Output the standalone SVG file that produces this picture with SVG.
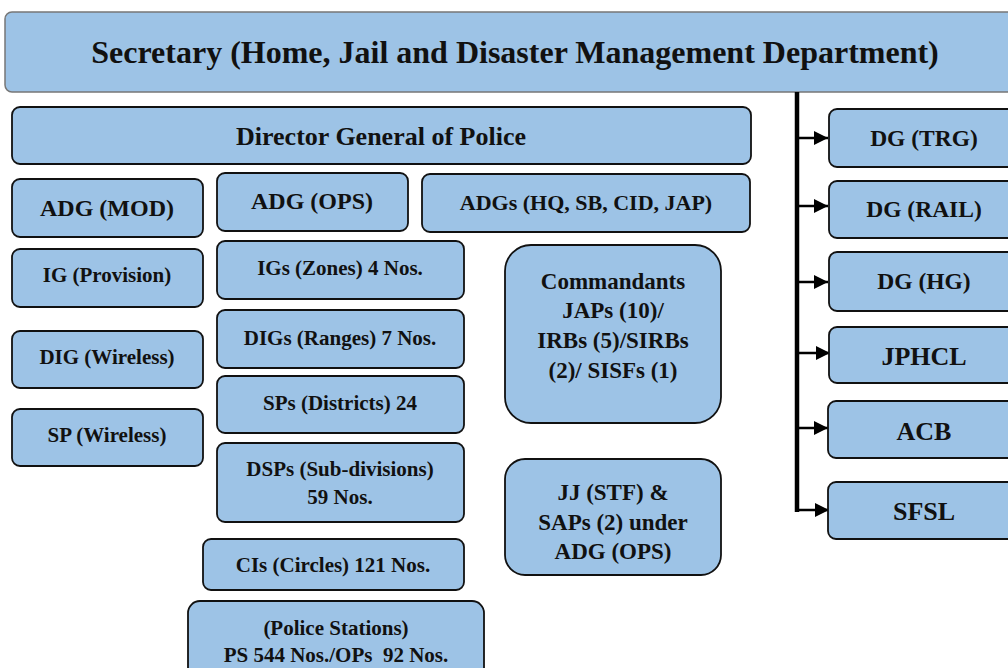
<svg xmlns="http://www.w3.org/2000/svg" width="1008" height="668" viewBox="0 0 1008 668">
<style>
.b{fill:#9DC3E6;stroke:#111;stroke-width:1.8}
.t{font-family:"Liberation Serif","DejaVu Serif",serif;font-weight:700;fill:#111;text-anchor:middle;dominant-baseline:central}
.c{stroke:#000;fill:none}
</style>
<defs>
<marker id="ah" viewBox="0 0 10 10" refX="10" refY="5" markerWidth="14" markerHeight="14" markerUnits="userSpaceOnUse" orient="auto">
<path d="M0,0 L10,5 L0,10 z" fill="#000"/>
</marker>
</defs>
<g id="secretary"><rect x="5" y="12" width="1015" height="80" rx="7" fill="#9DC3E6" stroke="#777" stroke-width="1.5"/><text class="t" x="515" y="52" font-size="32">Secretary (Home, Jail and Disaster Management Department)</text></g>
<g id="connectors">
<line class="c" x1="797" y1="92" x2="797" y2="512" stroke-width="4.5"/>
<line class="c" x1="797" y1="138" x2="828" y2="138" stroke-width="2.5" marker-end="url(#ah)"/>
<line class="c" x1="797" y1="206" x2="828" y2="206" stroke-width="2.5" marker-end="url(#ah)"/>
<line class="c" x1="797" y1="282" x2="828" y2="282" stroke-width="2.5" marker-end="url(#ah)"/>
<line class="c" x1="797" y1="353" x2="830" y2="353" stroke-width="2.5" marker-end="url(#ah)"/>
<line class="c" x1="797" y1="428" x2="828" y2="428" stroke-width="2.5" marker-end="url(#ah)"/>
<line class="c" x1="795" y1="510" x2="829" y2="510" stroke-width="2.5" marker-end="url(#ah)"/>
</g>
<g id="dgp"><rect class="b" x="12" y="107" width="739" height="57" rx="8"/><text class="t" x="381" y="136" font-size="26">Director General of Police</text></g>
<g id="adg-mod"><rect class="b" x="12" y="179" width="191" height="58" rx="8"/><text class="t" x="107" y="208" font-size="24">ADG (MOD)</text></g>
<g id="adg-ops"><rect class="b" x="217" y="173" width="191" height="58" rx="8"/><text class="t" x="312" y="201" font-size="24">ADG (OPS)</text></g>
<g id="adgs"><rect class="b" x="422" y="174" width="328" height="58" rx="8"/><text class="t" x="586" y="202" font-size="22">ADGs (HQ, SB, CID, JAP)</text></g>
<g id="ig-provision"><rect class="b" x="12" y="249" width="191" height="58" rx="8"/><text class="t" x="107" y="275" font-size="21">IG (Provision)</text></g>
<g id="igs-zones"><rect class="b" x="217" y="241" width="247" height="58" rx="8"/><text class="t" x="340" y="268" font-size="21">IGs (Zones) 4 Nos.</text></g>
<g id="dig-wireless"><rect class="b" x="12" y="331" width="191" height="57" rx="8"/><text class="t" x="107" y="357" font-size="21">DIG (Wireless)</text></g>
<g id="digs-ranges"><rect class="b" x="217" y="310" width="247" height="58" rx="8"/><text class="t" x="340" y="338" font-size="21">DIGs (Ranges) 7 Nos.</text></g>
<g id="sp-wireless"><rect class="b" x="12" y="409" width="191" height="57" rx="8"/><text class="t" x="107" y="435" font-size="21">SP (Wireless)</text></g>
<g id="sps-districts"><rect class="b" x="217" y="376" width="247" height="57" rx="8"/><text class="t" x="340" y="403" font-size="21">SPs (Districts) 24</text></g>
<g id="dsps"><rect class="b" x="217" y="443" width="247" height="79" rx="8"/><text class="t" x="340" y="469" font-size="21">DSPs (Sub-divisions)</text><text class="t" x="340" y="497" font-size="21">59 Nos.</text></g>
<g id="cis"><rect class="b" x="203" y="539" width="261" height="51" rx="8"/><text class="t" x="333" y="565" font-size="21">CIs (Circles) 121 Nos.</text></g>
<g id="police-stations"><rect class="b" x="188" y="601" width="296" height="90" rx="12"/><text class="t" x="336" y="628" font-size="21">(Police Stations)</text><text class="t" x="336" y="655" font-size="21">PS 544 Nos./OPs&#160; 92 Nos.</text></g>
<g id="commandants"><rect class="b" x="505" y="245" width="216" height="178" rx="26"/><text class="t" x="613" y="281" font-size="23">Commandants</text><text class="t" x="613" y="310" font-size="23">JAPs (10)/</text><text class="t" x="613" y="340" font-size="23">IRBs (5)/SIRBs</text><text class="t" x="613" y="370" font-size="23">(2)/ SISFs (1)</text></g>
<g id="jj-stf"><rect class="b" x="505" y="459" width="216" height="116" rx="20"/><text class="t" x="613" y="492" font-size="23">JJ (STF) &amp;</text><text class="t" x="613" y="522" font-size="23">SAPs (2) under</text><text class="t" x="613" y="551" font-size="23">ADG (OPS)</text></g>
<g id="dg-trg"><rect class="b" x="829" y="109" width="190" height="58" rx="8"/><text class="t" x="924" y="138" font-size="23.5">DG (TRG)</text></g>
<g id="dg-rail"><rect class="b" x="829" y="181" width="190" height="57" rx="8"/><text class="t" x="924" y="209" font-size="23.5">DG (RAIL)</text></g>
<g id="dg-hg"><rect class="b" x="829" y="252" width="190" height="59" rx="8"/><text class="t" x="924" y="281" font-size="23.5">DG (HG)</text></g>
<g id="jphcl"><rect class="b" x="829" y="327" width="190" height="56" rx="8"/><text class="t" x="924" y="356" font-size="26">JPHCL</text></g>
<g id="acb"><rect class="b" x="828" y="401" width="191" height="57" rx="8"/><text class="t" x="924" y="431" font-size="26">ACB</text></g>
<g id="sfsl"><rect class="b" x="828" y="482" width="191" height="57" rx="8"/><text class="t" x="924" y="511" font-size="26">SFSL</text></g>
</svg>
